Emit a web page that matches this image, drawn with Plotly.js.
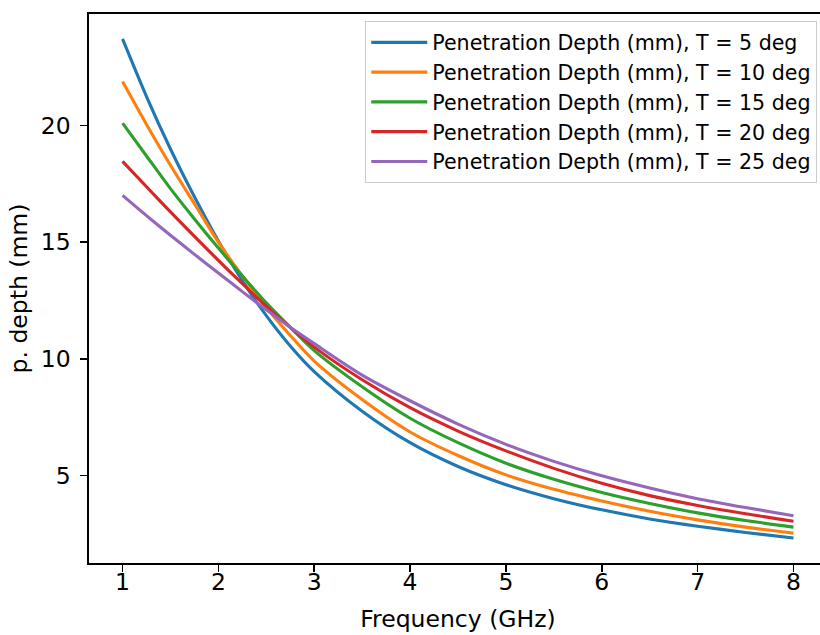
<!DOCTYPE html>
<html>
<head>
<meta charset="utf-8">
<script src="https://cdn.plot.ly/plotly-3.0.1.min.js"></script>
<style>
html,body{margin:0;padding:0;overflow:hidden;background:#fff;}
#chart{width:830px;height:635px;}
</style>
</head>
<body>
<div id="chart"></div>
<script>
const freq = [1,1.25,1.5,1.75,2,2.25,2.5,2.75,3,3.5,4,4.5,5,5.5,6,6.5,7,7.5,8];
const depthT5  = [23.72,21.25,19.0,16.95,15.05,13.35,11.85,10.55,9.45,7.75,6.4,5.38,4.6,4.0,3.52,3.13,2.82,2.55,2.31];
const depthT10 = [21.89,20.05,18.3,16.65,15.0,13.55,12.2,11.0,9.9,8.25,6.86,5.85,5.02,4.4,3.9,3.46,3.09,2.78,2.52];
const depthT15 = [20.11,18.7,17.3,16.0,14.75,13.55,12.4,11.35,10.35,8.8,7.45,6.4,5.52,4.83,4.26,3.79,3.39,3.06,2.78];
const depthT20 = [18.47,17.38,16.3,15.25,14.22,13.22,12.25,11.35,10.5,9.1,7.9,6.9,6.05,5.3,4.66,4.13,3.71,3.35,3.03];
const depthT25 = [17.01,16.14,15.3,14.48,13.68,12.88,12.1,11.35,10.65,9.3,8.2,7.2,6.33,5.6,4.98,4.46,4.0,3.62,3.27];
const seriesNames = [
  'Penetration Depth (mm), T = 5 deg',
  'Penetration Depth (mm), T = 10 deg',
  'Penetration Depth (mm), T = 15 deg',
  'Penetration Depth (mm), T = 20 deg',
  'Penetration Depth (mm), T = 25 deg'
];
const xTicks = [1,2,3,4,5,6,7,8];
const yTicks = [5,10,15,20];

const colors = ['#1f77b4','#ff7f0e','#2ca02c','#d62728','#9467bd'];
const allSeries = [depthT5, depthT10, depthT15, depthT20, depthT25];

const traces = allSeries.map((ys, i) => ({
  x: freq, y: ys, type: 'scatter', mode: 'lines', name: seriesNames[i],
  line: {color: colors[i], width: 3.1, shape: 'spline', smoothing: 0.8}
}));

const bigFont = {family: 'DejaVu Sans', size: 23.5, color: '#000'};

const axisCommon = {
  showgrid: false, zeroline: false, showline: true, linecolor: '#000', linewidth: 1.6,
  mirror: true, ticks: 'outside', ticklen: 7, tickwidth: 1.6, tickcolor: '#000',
  tickfont: bigFont
};

const layout = {
  width: 830, height: 635,
  margin: {l: 89, r: 3, t: 14, b: 72},
  paper_bgcolor: '#fff', plot_bgcolor: '#fff',
  font: {family: 'DejaVu Sans', size: 20.6, color: '#000'},
  xaxis: Object.assign({}, axisCommon, {
    range: [0.65, 8.35], tickmode: 'array', tickvals: xTicks, ticklabelstandoff: -10,
    title: {text: 'Frequency (GHz)', font: bigFont, standoff: 16}
  }),
  yaxis: Object.assign({}, axisCommon, {
    range: [1.24, 24.79], tickmode: 'array', tickvals: yTicks, ticklabelstandoff: 5,
    title: {text: 'p. depth (mm)', font: bigFont, standoff: 6}
  }),
  showlegend: true,
  legend: {
    x: 0.9864, y: 0.987, xanchor: 'right', yanchor: 'top',
    itemwidth: 56,
    bgcolor: 'rgba(255,255,255,0.8)', bordercolor: '#cccccc', borderwidth: 1.3,
    font: {family: 'DejaVu Sans', size: 20.6, color: '#000'}
  }
};

Plotly.newPlot('chart', traces, layout, {displayModeBar: false, staticPlot: true});
</script>
</body>
</html>
